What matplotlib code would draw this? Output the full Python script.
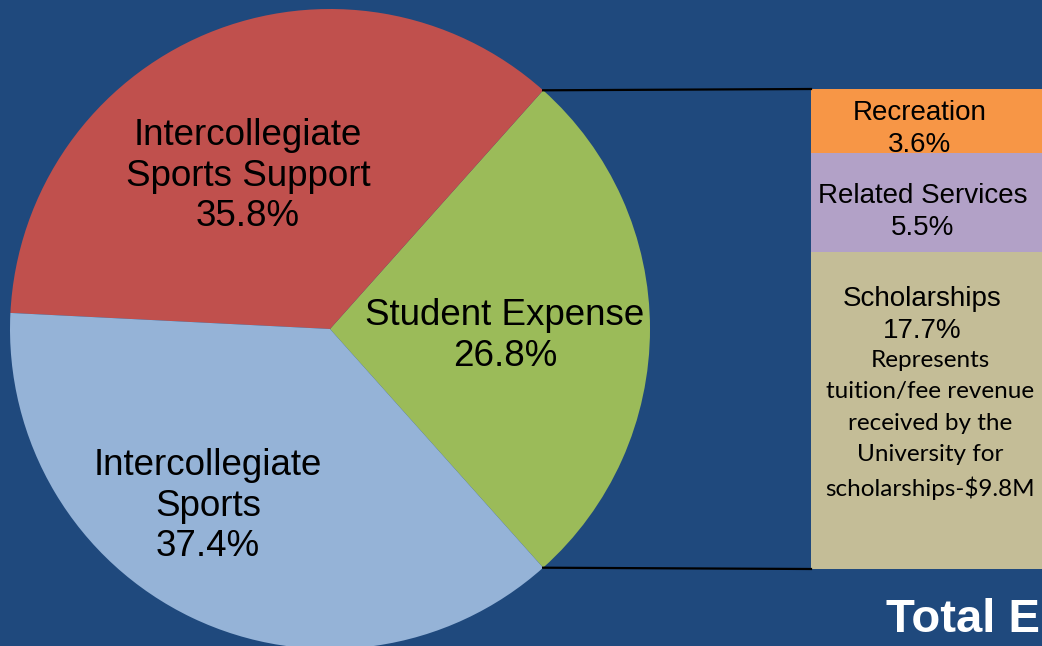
import numpy as np
import matplotlib.pyplot as plt
from matplotlib.patches import Rectangle

# Pie data (Student Expense is broken out into the bar)
pie_labels = ["Student Expense\n26.8%", "Intercollegiate\nSports Support\n35.8%", "Intercollegiate\nSports\n37.4%"]
pie_values = [26.8, 35.8, 37.4]
pie_colors = ["#9BBB59", "#C0504D", "#95B3D7"]

# Bar data (bottom to top)
bar_names = ["Scholarships", "Related Services", "Recreation"]
bar_values = [17.7, 5.5, 3.6]
bar_colors = ["#C4BD97", "#B2A1C7", "#F79646"]
scholar_note = "Represents\ntuition/fee revenue\nreceived by the\nUniversity for\nscholarships-$9.8M"

bg = "#1F497D"
fig = plt.figure(figsize=(10.42, 6.46), dpi=100, facecolor=bg)
ax = fig.add_axes([0, 0, 1, 1])
ax.set_facecolor(bg)

# Pie
cx, cy, r = 330, 317, 320
start = -pie_values[0] / 100 * 360 / 2
wedges, _ = ax.pie(pie_values, colors=pie_colors, startangle=start, counterclock=True,
                   center=(cx, cy), radius=r, frame=True,
                   wedgeprops=dict(linewidth=0))

ax.set_xlim(0, 1042)
ax.set_ylim(0, 646)
ax.set_aspect("equal")
ax.axis("off")

font = "Liberation Sans"
ax.text(505, 646 - 336, pie_labels[0], ha="center", va="center", fontsize=26.5,
        family=font, linespacing=1.22)
ax.text(248, 646 - 176, pie_labels[1], ha="center", va="center", fontsize=26.5,
        family=font, linespacing=1.22)
ax.text(208, 646 - 506, pie_labels[2], ha="center", va="center", fontsize=26.5,
        family=font, linespacing=1.22)

# Bar of the broken-out slice
bx, bw = 811, 260
btop, bbot = 646 - 89, 646 - 569
scale = (btop - bbot) / sum(bar_values)
y = bbot
for name, v, c in zip(bar_names, bar_values, bar_colors):
    h = v * scale
    ax.add_patch(Rectangle((bx, y), bw, h, facecolor=c, edgecolor="none", clip_on=False))
    y += h

# connector lines from the wedge edges to the bar
a = np.deg2rad(-start)
ax.plot([cx + r * np.cos(a), bx], [cy + r * np.sin(a), btop], color="black", lw=1.6)
ax.plot([cx + r * np.cos(a), bx], [cy - r * np.sin(a), bbot], color="black", lw=1.6)

# bar labels
ax.text(920, 646 - 129, "Recreation\n3.6%", ha="center", va="center", fontsize=20,
        family=font, linespacing=1.27)
ax.text(923, 646 - 212, "Related Services\n5.5%", ha="center", va="center", fontsize=20,
        family=font, linespacing=1.27)
ax.text(922, 646 - 315, "Scholarships\n17.7%", ha="center", va="center", fontsize=20,
        family=font, linespacing=1.27)
ax.text(930, 646 - 425, scholar_note, ha="center", va="center", fontsize=17.5,
        family="Lato", linespacing=1.6)

ax.text(886, 646 - 632, "Total E", ha="left", va="baseline", fontsize=34,
        family=font, weight="bold", color="white")

fig.savefig("out.png", dpi=100, facecolor=bg)
